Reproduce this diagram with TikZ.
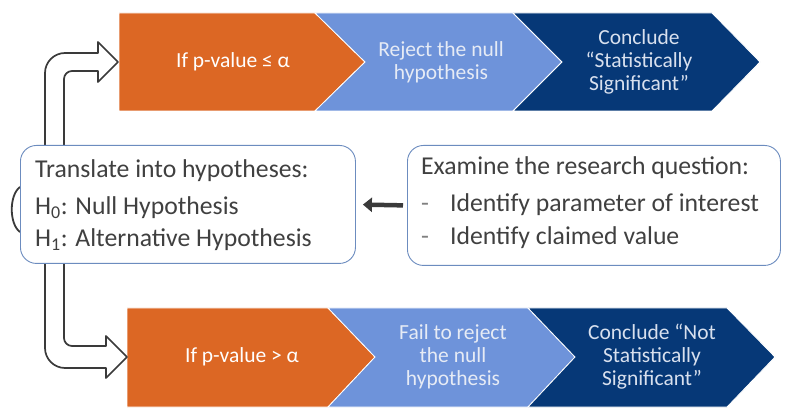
\documentclass[tikz,border=0pt]{standalone}
\usepackage{fontspec}
\setmainfont{Carlito}
\usetikzlibrary{arrows.meta}
\definecolor{orng}{HTML}{DC6724}
\definecolor{lblue}{HTML}{6E93DA}
\definecolor{dblue}{HTML}{063877}
\definecolor{boxline}{HTML}{6C8CBF}
\definecolor{txt}{HTML}{404040}
\definecolor{arr}{HTML}{3A3A3A}
\definecolor{ltxt}{HTML}{E6EBF5}
\definecolor{dtxt}{HTML}{D8E0EE}
\begin{document}
\begin{tikzpicture}[x=1pt,y=-1pt,
  chev/.style={draw=white, line width=0.8pt, line join=miter},
  ctext/.style={align=center, font=\fontsize{21.5}{23}\selectfont, inner sep=0pt},
  rbox/.style={draw=boxline, line width=0.9pt, fill=white, rounded corners=16pt, anchor=north west},
  btext/.style={anchor=base west, font=\fontsize{25.7}{30}\selectfont, text=txt, inner sep=0pt},
  outline/.style={draw=arr, line width=1.7pt, fill=white, line join=round}]
\useasboundingbox (0,0) rectangle (792,419);
\fill[white] (0,0) rectangle (792,419);
% top chevrons
\path[chev, fill=orng] (119,13) -- (315,13) -- (365,62) -- (315,111) -- (119,111) -- cycle;
\path[chev, fill=lblue] (315,13) -- (513,13) -- (562,62) -- (513,111) -- (315,111) -- (365,62) -- cycle;
\path[chev, fill=dblue] (513,13) -- (712,13) -- (760,62) -- (712,111) -- (513,111) -- (562,62) -- cycle;
\node[ctext, text=white] (t1) at (233,62) {If p-value ≤ α};
\node[ctext, text=ltxt] (t2) at (441,62) {Reject the null\\hypothesis};
\node[ctext, text=dtxt] (t3) at (639,62) {Conclude\\“Statistically\\Significant”};
% bottom chevrons
\path[chev, fill=orng] (127,308) -- (328,308) -- (375,357) -- (328,407) -- (127,407) -- cycle;
\path[chev, fill=lblue] (328,308) -- (528,308) -- (575,357) -- (528,407) -- (328,407) -- (375,357) -- cycle;
\path[chev, fill=dblue] (528,308) -- (727,308) -- (775,357) -- (727,407) -- (528,407) -- (575,357) -- cycle;
\node[ctext, text=white] (b1) at (242,357) {If p-value > α};
\node[ctext, text=ltxt] (b2) at (453,357) {Fail to reject\\the null\\hypothesis};
\node[ctext, text=dtxt] (b3) at (652,357) {Conclude “Not\\Statistically\\Significant”};
% bent block arrows
\draw[outline] (118,62) -- (98,82) -- (98,71) -- (72,71)
  .. controls (67.6,71) and (64,74.6) .. (64,79) -- (64,338)
  .. controls (64,342.4) and (67.6,346) .. (72,346) -- (106,346) -- (106,336)
  -- (127,357) -- (106,378) -- (106,368) -- (65,368)
  .. controls (54,368) and (45,359) .. (45,348) -- (45,73)
  .. controls (45,62) and (54,53) .. (65,53) -- (98,53) -- (98,42) -- cycle;
\draw[arr, line width=1.8pt] (20,187) .. controls (9,195) and (9,224) .. (20,232);
% boxes
\node[rbox, minimum width=335pt, minimum height=118pt] (lbox) at (20,145) {};
\node[rbox, minimum width=373pt, minimum height=120pt] (rbox) at (407,145) {};
\node[btext] (l1) at (35,178) {Translate into hypotheses:};
\node[btext] (l2) at (35,215) {H\textsubscript{0}: Null Hypothesis};
\node[btext] (l3) at (35,247) {H\textsubscript{1}: Alternative Hypothesis};
\node[btext] (r1) at (421,175) {Examine the research question:};
\node[btext] (r2) at (421,212) {\makebox[29pt][l]{\color{gray}-}Identify parameter of interest};
\node[btext] (r3) at (421,245) {\makebox[29pt][l]{\color{gray}-}Identify claimed value};
% connector
\draw[arr, line width=4.5pt, -{Triangle[length=9pt,width=14pt]}, shorten <=4pt, shorten >=7pt] (rbox.west) -- (lbox.east);
\end{tikzpicture}
\end{document}
